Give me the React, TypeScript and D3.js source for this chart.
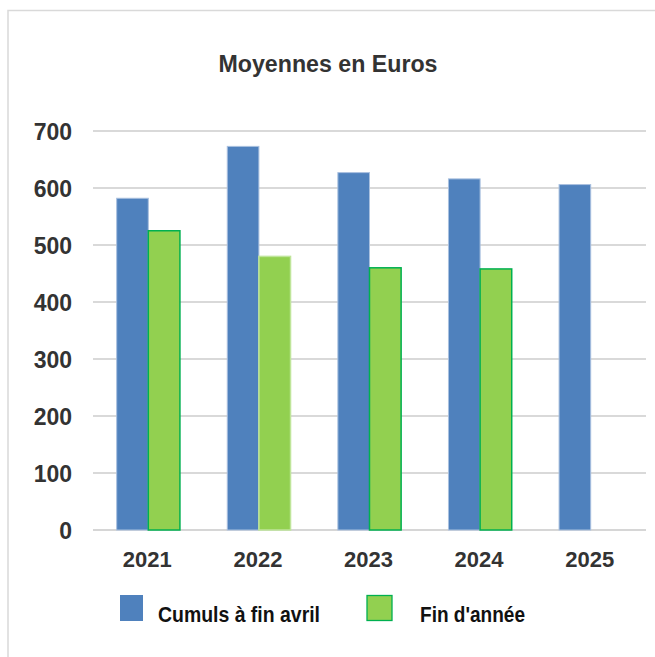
import React from "react";
import * as d3 from "d3";

const years = ["2021", "2022", "2023", "2024", "2025"];
const cumulsAvril = [582, 673, 627, 616, 606];
const finAnnee: (number | null)[] = [525, 480, 460, 458, null];
const yTicks = [0, 100, 200, 300, 400, 500, 600, 700];
const seriesNames = ["Cumuls à fin avril", "Fin d'année"];

const W = 655;
const H = 657;
const margin = { top: 131, right: 9, bottom: 127, left: 93 };

export default function App() {
  const x = d3.scaleBand<string>()
    .domain(years)
    .range([margin.left, W - margin.right])
    .paddingInner(0)
    .paddingOuter(0);
  const y = d3.scaleLinear()
    .domain([0, 700])
    .range([H - margin.bottom, margin.top]);
  const groupW = x.bandwidth() * 0.572;
  const sub = d3.scaleBand<number>()
    .domain([0, 1])
    .range([0, groupW]);

  const font = "'Liberation Sans', Arial, sans-serif";
  const narrow = "'Liberation Sans Narrow', 'Arial Narrow', 'Liberation Sans', sans-serif";
  const left = x.range()[0];
  const right = x.range()[1];

  return (
    <svg width={W} height={H} style={{ position: "absolute", left: 0, top: 0, background: "#fff" }}>
      <rect x={8} y={10.5} width={W} height={H} fill="none" stroke="#d9d9d9" strokeWidth={1.5} />
      <text x={328} y={72} textAnchor="middle" fontFamily={font} fontWeight="bold"
        fontSize={23} fill="#333" textLength={219} lengthAdjust="spacingAndGlyphs">Moyennes en Euros</text>

      {/* grid + y labels */}
      {yTicks.map(t => (
        <g key={t}>
          <line x1={left} x2={right} y1={y(t)} y2={y(t)}
            stroke={t === 0 ? "#c8c8c8" : "#d9d9d9"} strokeWidth={t === 0 ? 1.5 : 2} />
          <text x={72} y={y(t) + 9} textAnchor="end" fontFamily={font} fontWeight="bold"
            fontSize={23} fill="#333">{t}</text>
        </g>
      ))}

      {/* bars */}
      {years.map((yr, i) => {
        const x0 = (x(yr) as number) + (x.bandwidth() - groupW) / 2;
        const g = finAnnee[i];
        return (
          <g key={yr}>
            <rect x={x0 + (sub(0) as number)} y={y(cumulsAvril[i])}
              width={sub.bandwidth()} height={y(0) - y(cumulsAvril[i])}
              fill="#4f81bd" stroke="#a9c0df" strokeWidth={1} />
            {g != null && (
              <rect x={x0 + (sub(1) as number)} y={y(g)}
                width={sub.bandwidth()} height={y(0) - y(g)}
                fill="#92d050" stroke={i === 1 ? "#bfe59a" : "#00b050"} strokeWidth={1.5} />
            )}
            <text x={(x(yr) as number) + x.bandwidth() / 2 - 1} y={567} textAnchor="middle"
              fontFamily={font} fontWeight="bold" fontSize={22} fill="#333">{yr}</text>
          </g>
        );
      })}

      {/* legend */}
      <rect x={120} y={595} width={23} height={26} fill="#4f81bd" />
      <text x={158} y={621.5} fontFamily={narrow} fontWeight="bold" fontSize={22.5}
        fill="#111" textLength={162} lengthAdjust="spacingAndGlyphs">{seriesNames[0]}</text>
      <rect x={367} y={595.5} width={25} height={25} fill="#92d050" stroke="#00b050" strokeWidth={1.3} />
      <text x={420} y={621.5} fontFamily={narrow} fontWeight="bold" fontSize={22.5}
        fill="#111" textLength={105} lengthAdjust="spacingAndGlyphs">{seriesNames[1]}</text>
    </svg>
  );
}
